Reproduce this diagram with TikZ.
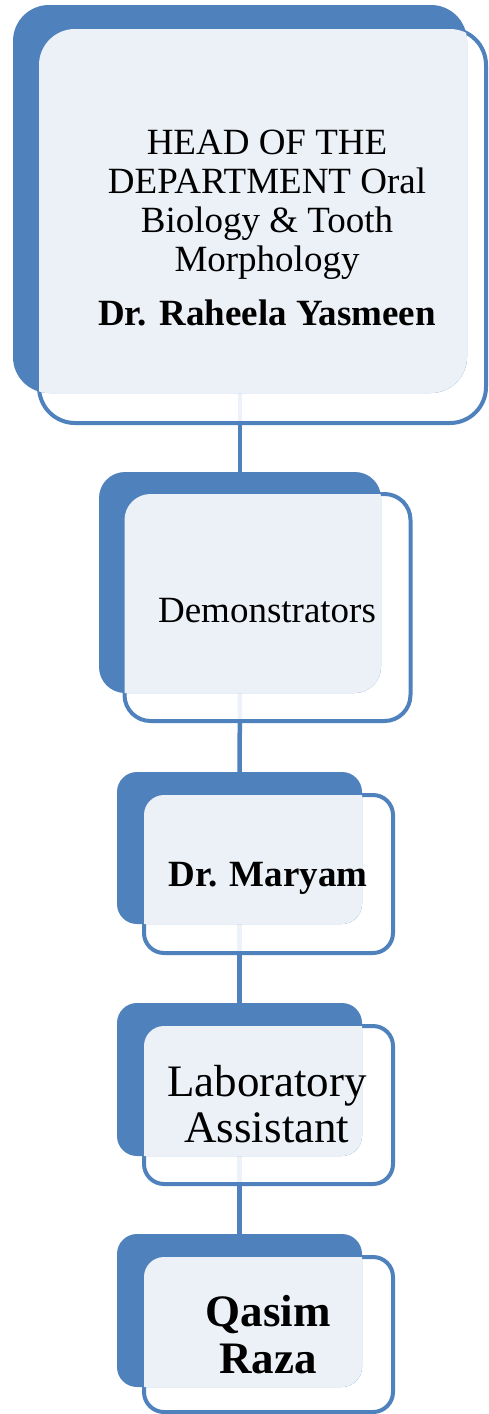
\documentclass[tikz,border=0pt]{standalone}
\usepackage{fontspec}
\setmainfont{Liberation Serif}
\usetikzlibrary{backgrounds}
\definecolor{orgblue}{RGB}{79,129,189}
\definecolor{orglight}{RGB}{236,241,248}

\begin{document}
\begin{tikzpicture}[x=1pt,y=-1pt,
  frontbox/.style={draw=orgblue,line width=4pt,fill=white,fill opacity=.9,inner sep=0pt,outer sep=0pt},
  backbox/.style={fill=orgblue,inner sep=0pt,outer sep=0pt},
  link/.style={draw=orgblue,line width=4.5pt},
  boxtext/.style={align=center,text=black,font=\fontsize{37}{39}\selectfont}]

\useasboundingbox (0,0) rectangle (489,1414);

% head of the department
\node[frontbox,rounded corners=36pt,minimum width=447pt,minimum height=394pt] (hod) at (262.5,226) {};
\node[backbox,rounded corners=36pt,minimum width=454pt,minimum height=388pt] (hodback) at (240,199) {};
\begin{scope}
\clip[rounded corners=36pt] (hodback.south west) rectangle (hodback.north east);
\fill[orglight,rounded corners=36pt] (hod.south west) rectangle (hod.north east);
\end{scope}
\node[boxtext] (hodtext) at (267,228) {HEAD OF THE\\DEPARTMENT Oral\\Biology \& Tooth\\Morphology\\[15pt]\textbf{Dr. Raheela Yasmeen}};

% demonstrators
\node[frontbox,rounded corners=26pt,minimum width=286pt,minimum height=227pt] (demo) at (267.5,607.5) {};
\node[backbox,rounded corners=26pt,minimum width=282pt,minimum height=221pt] (demoback) at (240,582.5) {};
\begin{scope}
\clip[rounded corners=26pt] (demoback.south west) rectangle (demoback.north east);
\fill[orglight,rounded corners=26pt] (demo.south west) rectangle (demo.north east);
\end{scope}
\node[boxtext,anchor=base] (demotext) at (267,622) {Demonstrators};

% dr. maryam
\node[frontbox,rounded corners=20pt,minimum width=249pt,minimum height=158pt] (maryam) at (268.5,874) {};
\node[backbox,rounded corners=20pt,minimum width=245pt,minimum height=152pt] (maryamback) at (239.5,848) {};
\begin{scope}
\clip[rounded corners=20pt] (maryamback.south west) rectangle (maryamback.north east);
\fill[orglight,rounded corners=20pt] (maryam.south west) rectangle (maryam.north east);
\end{scope}
\node[boxtext,anchor=base] (maryamtext) at (268,886) {\textbf{Dr. Maryam}};

% laboratory assistant
\node[frontbox,rounded corners=20pt,minimum width=249pt,minimum height=158pt] (lab) at (268.5,1105) {};
\node[backbox,rounded corners=20pt,minimum width=245pt,minimum height=153pt] (labback) at (239.5,1079.5) {};
\begin{scope}
\clip[rounded corners=20pt] (labback.south west) rectangle (labback.north east);
\fill[orglight,rounded corners=20pt] (lab.south west) rectangle (lab.north east);
\end{scope}
\node[boxtext,font=\fontsize{45}{46}\selectfont] (labtext) at (267,1104) {Laboratory\\Assistant};

% qasim raza
\node[frontbox,rounded corners=20pt,minimum width=249pt,minimum height=155pt] (qasim) at (268.5,1334.5) {};
\node[backbox,rounded corners=20pt,minimum width=245pt,minimum height=153pt] (qasimback) at (239.5,1310.5) {};
\begin{scope}
\clip[rounded corners=20pt] (qasimback.south west) rectangle (qasimback.north east);
\fill[orglight,rounded corners=20pt] (qasim.south west) rectangle (qasim.north east);
\end{scope}
\node[boxtext,font=\fontsize{45}{47}\selectfont\bfseries] (qasimtext) at (268,1335) {Qasim\\Raza};

% connectors behind the boxes
\begin{scope}[on background layer]
\draw[link] (hodback.south) -- (demoback.north);
\draw[link] (demoback.south) -- (maryamback.north);
\draw[link] (maryamback.south) -- (labback.north);
\draw[link] (labback.south) -- (qasimback.north);
\end{scope}
\end{tikzpicture}
\end{document}
